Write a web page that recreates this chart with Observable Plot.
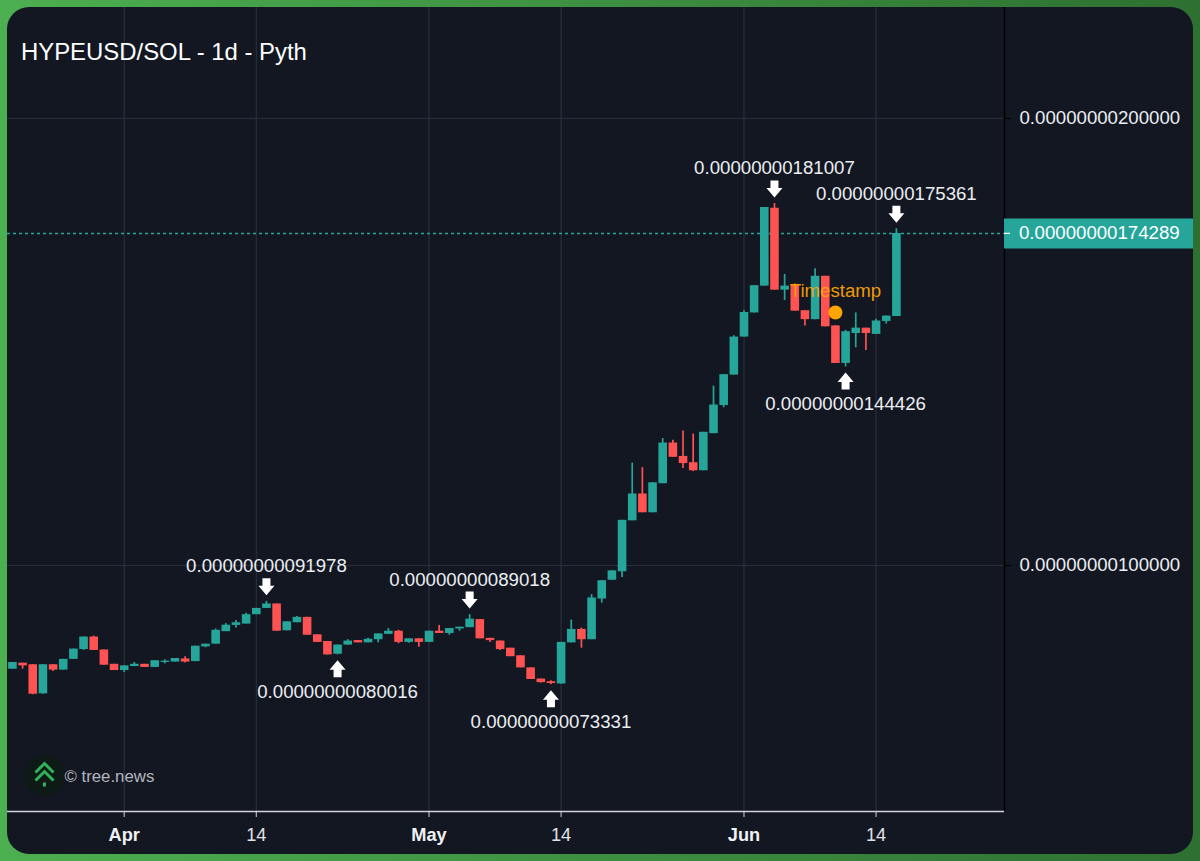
<!DOCTYPE html>
<html>
<head>
<meta charset="utf-8">
<script src="https://cdn.jsdelivr.net/npm/d3@7"></script>
<script src="https://cdn.jsdelivr.net/npm/@observablehq/plot@0.6"></script>
<style>
html,body{margin:0;padding:0;width:1200px;height:861px;overflow:hidden;background:linear-gradient(90deg,#4caf50 0%,#2e7031 100%);}
</style>
</head>
<body>
<script>
// Prices are expressed in units of 1e-9 (nano)
const priceUnit = 1e-9;
const firstDay = Date.UTC(2025, 2, 21);
const open = [.768,.7815,.778,.713,.778,.766,.790,.812,.840,.811,.779,.765,.774,.779,.772,.783,.784,.791,.785,.818,.824,.852,.866,.869,.890,.904,.914,.854,.872,.884,.845,.830,.8015,.822,.832,.827,.834,.846,.853,.828,.836,.828,.853,.848,.858,.861,.879,.837,.831,.815,.798,.771,.746,.740,.735,.827,.857,.834,.925,.967,.986,1.100,1.160,1.118,1.183,1.274,1.244,1.230,1.212,1.295,1.358,1.426,1.511,1.565,1.625,1.799,1.616,1.626,1.570,1.550,1.647,1.536,1.452,1.519,1.531,1.517,1.546,1.557];
const high = [.783,.7815,.778,.778,.778,.790,.813,.840,.842,.811,.779,.7755,.783,.779,.787,.789,.792,.796,.8195,.824,.858,.870,.877,.893,.904,.91978,.914,.874,.886,.884,.845,.830,.822,.834,.832,.837,.847,.859,.855,.836,.836,.853,.866,.859,.862,.89018,.879,.837,.831,.815,.798,.771,.746,.742,.828,.878,.860,.935,.966,.988,1.101,1.229,1.219,1.185,1.284,1.280,1.301,1.294,1.298,1.401,1.427,1.514,1.570,1.626,1.801,1.81007,1.651,1.630,1.570,1.664,1.647,1.536,1.526,1.565,1.531,1.551,1.558,1.75361];
const low = [.768,.768,.711,.712,.763,.766,.790,.810,.810,.777,.765,.761,.774,.772,.772,.780,.784,.782,.785,.816,.824,.852,.860,.869,.890,.904,.853,.854,.872,.844,.828,.800,.80016,.822,.827,.827,.827,.846,.825,.826,.817,.828,.848,.844,.853,.861,.836,.828,.810,.796,.771,.745,.737,.73331,.735,.827,.815,.834,.916,.967,.973,1.100,1.118,1.118,1.183,1.242,1.217,1.210,1.212,1.295,1.353,1.426,1.511,1.565,1.625,1.616,1.593,1.569,1.536,1.550,1.534,1.452,1.44426,1.487,1.481,1.517,1.540,1.557];
const close = [.783,.7755,.712,.778,.766,.790,.813,.840,.810,.777,.765,.7755,.779,.772,.787,.786,.792,.784,.8195,.824,.855,.8665,.872,.890,.904,.914,.853,.874,.884,.844,.828,.800,.822,.831,.827,.835,.847,.853,.828,.836,.828,.853,.848,.859,.862,.880,.836,.832,.812,.796,.771,.745,.738,.736,.828,.857,.834,.9275,.966,.988,1.101,1.160,1.118,1.185,1.274,1.242,1.228,1.212,1.298,1.359,1.427,1.511,1.566,1.626,1.801,1.616,1.625,1.569,1.550,1.647,1.534,1.452,1.523,1.531,1.519,1.547,1.558,1.74289];
const highMarkers = [25, 45, 75, 87];   // candle indexes of the annotated highs
const lowMarkers = [32, 53, 82];        // candle indexes of the annotated lows
const priceTicks = [1, 2];
const lastPrice = 1.74289;
const timestampPrice = 1.566;
const monthTicks = ["2025-04-01", "2025-05-01", "2025-06-01"].map(d => new Date(d));
const dayTicks = ["2025-04-14", "2025-05-14", "2025-06-14"].map(d => new Date(d));
const timestampDay = new Date("2025-06-10");

const DAY = 864e5;
const apr1 = Date.UTC(2025, 3, 1);
const xLeft = new Date(apr1 - 11.486 * DAY);
const xRight = new Date(apr1 + 86.64 * DAY);
const xBadgeTick = new Date(apr1 + 87.23 * DAY);
const xBadgeEnd = new Date(apr1 + 105.3 * DAY);

const candles = open.map((o, i) => ({
  date: new Date(firstDay + i * DAY), open: o, high: high[i], low: low[i], close: close[i], up: close[i] >= o
}));
const fmt = v => (v * priceUnit).toFixed(14);

const TEAL = "#26a69a", RED = "#ff5252", GRID = "#2b2f3b", TEXT = "#eceef2";
const FS = 18.65;

const downArrow = {draw(c) {
  c.moveTo(-4, -8.5); c.lineTo(4, -8.5); c.lineTo(4, -1); c.lineTo(8, -1);
  c.lineTo(0, 8.5); c.lineTo(-8, -1); c.lineTo(-4, -1); c.closePath();
}};
const upArrow = {draw(c) {
  c.moveTo(-4, 8.5); c.lineTo(4, 8.5); c.lineTo(4, 1); c.lineTo(8, 1);
  c.lineTo(0, -8.5); c.lineTo(-8, 1); c.lineTo(-4, 1); c.closePath();
}};
const treeGlyph = {draw(c) {
  c.moveTo(-9, -3); c.lineTo(0, -12); c.lineTo(9, -3);
  c.moveTo(-9, 5); c.lineTo(0, -4); c.lineTo(9, 5);
  c.moveTo(0, 7); c.lineTo(0, 11);
}};

const highs = highMarkers.map(i => candles[i]);
const lows = lowMarkers.map(i => candles[i]);

const chart = Plot.plot({
  width: 1186, height: 847,
  marginLeft: 0, marginRight: 189, marginTop: 0, marginBottom: 43,
  x: {type: "utc", domain: [xLeft, xRight], axis: null},
  y: {type: "linear", domain: [0.4497, 2.2483], axis: null},
  style: {background: "#131722", fontFamily: "'Liberation Sans', Arial, sans-serif", borderRadius: "22px", position: "absolute", left: "7px", top: "7px"},
  marks: [
    Plot.ruleX([...monthTicks, ...dayTicks], {stroke: GRID, strokeWidth: 1.2}),
    Plot.ruleY(priceTicks, {x1: xLeft, x2: xRight, stroke: GRID, strokeWidth: 1.2}),
    Plot.ruleY([lastPrice], {x1: xLeft, x2: xRight, stroke: TEAL, strokeDasharray: "3,3", strokeWidth: 1.4}),

    Plot.ruleX(candles.filter(d => d.up), {x: "date", y1: "low", y2: "high", stroke: TEAL, strokeWidth: 1.7}),
    Plot.ruleX(candles.filter(d => !d.up), {x: "date", y1: "low", y2: "high", stroke: RED, strokeWidth: 1.7}),
    Plot.ruleX(candles.filter(d => d.up), {x: "date", y1: "open", y2: "close", stroke: TEAL, strokeWidth: 8.6}),
    Plot.ruleX(candles.filter(d => !d.up), {x: "date", y1: "open", y2: "close", stroke: RED, strokeWidth: 8.6}),

    Plot.ruleX([xRight], {stroke: "#000000", strokeWidth: 1.5}),
    Plot.ruleY([0.4497], {x1: xLeft, x2: xRight, stroke: "#d1d4dc", strokeWidth: 1.5}),

    Plot.axisX(monthTicks, {anchor: "bottom", tickFormat: d3.utcFormat("%b"), label: null, tickSize: 6, tickPadding: 11, fontSize: 18.2, fontWeight: "bold", stroke: "#d1d4dc", fill: "#f0f1f5"}),
    Plot.axisX(dayTicks, {anchor: "bottom", tickFormat: d3.utcFormat("%-d"), label: null, tickSize: 6, tickPadding: 11, fontSize: 18.2, stroke: "#d1d4dc", fill: "#e0e2e8"}),
    Plot.axisY(priceTicks, {anchor: "right", tickFormat: fmt, label: null, tickSize: 6, tickPadding: 9, fontSize: FS, stroke: "#000000", fill: TEXT}),

    // current price badge
    Plot.ruleY([lastPrice], {x1: xRight, x2: xBadgeEnd, stroke: TEAL, strokeWidth: 30}),
    Plot.ruleY([lastPrice], {x1: xRight, x2: xBadgeTick, stroke: "#ffffff", strokeWidth: 1.2}),
    Plot.text([lastPrice], {y: d => d, text: fmt, frameAnchor: "right", textAnchor: "start", dx: 14.5, fontSize: FS, fill: "#ffffff"}),

    // high / low annotations
    Plot.dot(highs, {x: "date", y: "high", symbol: downArrow, r: 5, fill: "#ffffff", stroke: "none", dy: -14.5}),
    Plot.text(highs, {x: "date", y: "high", text: d => fmt(d.high), dy: -35, fontSize: FS, fill: TEXT}),
    Plot.dot(lows, {x: "date", y: "low", symbol: upArrow, r: 5, fill: "#ffffff", stroke: "none", dy: 14}),
    Plot.text(lows, {x: "date", y: "low", text: d => fmt(d.low), dy: 37.5, fontSize: FS, fill: TEXT}),

    // timestamp marker
    Plot.dot([timestampDay], {x: d => d, y: () => timestampPrice, r: 7, fill: "#ffa500", stroke: "none"}),
    Plot.text([timestampDay], {x: d => d, y: () => timestampPrice, text: () => "Timestamp", dy: -21, fontSize: FS, fill: "#ffa500", fillOpacity: 0.95}),

    // title and brand
    Plot.text(["HYPEUSD/SOL - 1d - Pyth"], {text: d => d, frameAnchor: "top-left", dx: 13.5, dy: 35.5, fontSize: 23.9, fill: "#ffffff"}),
    Plot.dot([0], {frameAnchor: "bottom-left", dx: 37, dy: -36, r: 20, fill: "#0d1a15", stroke: "none"}),
    Plot.dot([0], {frameAnchor: "bottom-left", dx: 37, dy: -36, r: 5, symbol: treeGlyph, fill: "none", stroke: "#2fb35a", strokeWidth: 3}),
    Plot.text(["© tree.news"], {text: d => d, frameAnchor: "bottom-left", dx: 57, dy: -30, fontSize: 16.8, fill: "#b2b5be"})
  ]
});
document.body.appendChild(chart);
</script>
</body>
</html>
